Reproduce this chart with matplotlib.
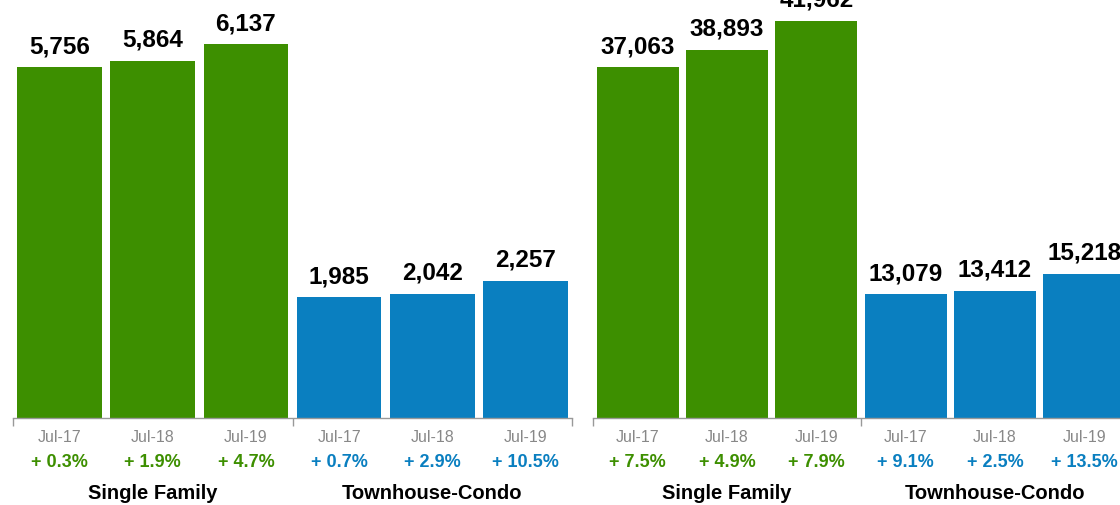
import matplotlib
matplotlib.use("Agg")
import matplotlib.pyplot as plt

plt.rcParams['font.family'] = ['Liberation Sans', 'DejaVu Sans']

periods = ['Jul-17', 'Jul-18', 'Jul-19']
groups = ['Single Family', 'Townhouse-Condo']

# left panel
left_single = [5756, 5864, 6137]
left_condo = [1985, 2042, 2257]
left_single_pct = ['+ 0.3%', '+ 1.9%', '+ 4.7%']
left_condo_pct = ['+ 0.7%', '+ 2.9%', '+ 10.5%']

# right panel
right_single = [37063, 38893, 41962]
right_condo = [13079, 13412, 15218]
right_single_pct = ['+ 7.5%', '+ 4.9%', '+ 7.9%']
right_condo_pct = ['+ 9.1%', '+ 2.5%', '+ 13.5%']

green = '#3d8f00'
blue = '#0a7fc0'
W, H = 1120, 506

fig = plt.figure(figsize=(W / 100, H / 100), dpi=100)


def panel(x0, x1, ymax, single, condo, single_pct, condo_pct, width):
    base = 419
    ax = fig.add_axes([x0 / W, (H - base) / H, (x1 - x0) / W, base / H])
    vals = single + condo
    cols = [green] * 3 + [blue] * 3
    xs = [i + 0.5 for i in range(6)]
    ax.bar(xs, vals, width=width, color=cols)
    ax.set_xlim(0, 6)
    ax.set_ylim(0, ymax)
    for s in ['top', 'right', 'left']:
        ax.spines[s].set_visible(False)
    ax.spines['bottom'].set_color('#999999')
    ax.spines['bottom'].set_linewidth(1)
    ax.set_yticks([])
    ax.set_xticks([0, 3, 6])
    ax.set_xticklabels([])
    ax.tick_params(axis='x', length=6, color='#999999', width=1)
    trans = ax.get_xaxis_transform()
    pcts = single_pct + condo_pct
    for i, x in enumerate(xs):
        ax.annotate(f'{vals[i]:,}', (x, vals[i]), xytext=(0, 15),
                    textcoords='offset pixels', ha='center', va='baseline',
                    fontsize=17.5, fontweight='bold', color='black',
                    annotation_clip=False)
        ax.text(x, -19 / base, periods[i % 3], transform=trans, ha='center',
                va='center', fontsize=11.5, color='#888888', clip_on=False)
        ax.text(x, -44 / base, pcts[i], transform=trans, ha='center',
                va='center', fontsize=13, fontweight='bold',
                color=green if i < 3 else blue, clip_on=False)
    for g, cx in zip(groups, [1.5, 4.5]):
        ax.text(cx, -75 / base, g, transform=trans, ha='center', va='center',
                fontsize=14.5, fontweight='bold', color='black', clip_on=False)
    return ax


panel(13, 572, 419 / 0.0609, left_single, left_condo,
      left_single_pct, left_condo_pct, 0.91)
panel(593, 1129, 419 / 0.00947, right_single, right_condo,
      right_single_pct, right_condo_pct, 0.92)

fig.savefig('out.png', dpi=100)
